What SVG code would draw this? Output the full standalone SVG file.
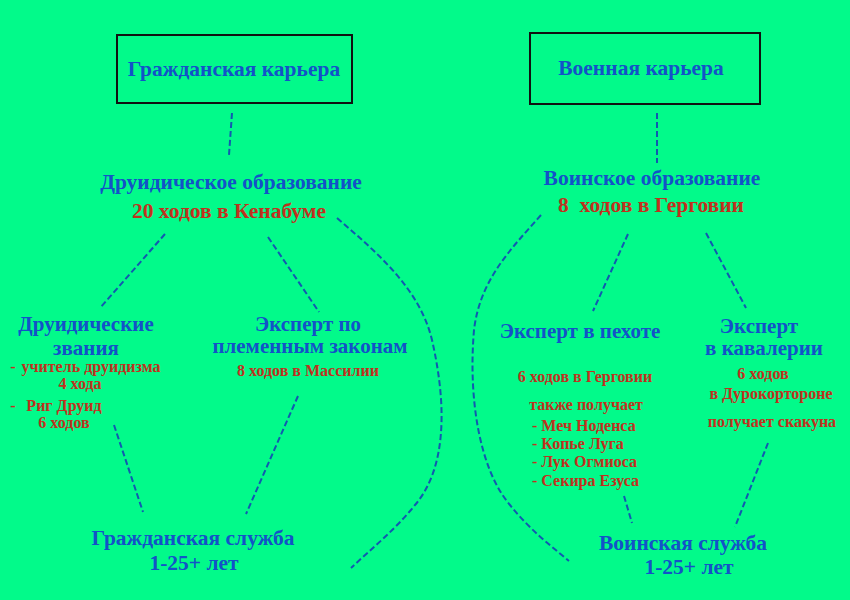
<svg xmlns="http://www.w3.org/2000/svg" width="850" height="600" viewBox="0 0 850 600">
<style>
.b{font-family:"Liberation Serif","Times New Roman",serif;font-weight:bold;fill:#1352c8;text-anchor:middle}
.r{font-family:"Liberation Serif","Times New Roman",serif;font-weight:bold;fill:#c0311e;text-anchor:middle}
.h{font-size:21px}
.m{font-size:21.5px}
.rm{font-size:21.5px}
.s{font-size:16px}
.st{text-anchor:start}
.box{fill:none;stroke:#111;stroke-width:2}
.c{fill:none;stroke:#1258b0;stroke-width:2;stroke-dasharray:6,3}
</style>
<rect width="850" height="600" fill="#02fa8a"/>
<g id="connectors">
<path class="c" d="M232,113 L229,155"/>
<path class="c" d="M657,113 L657,163"/>
<path class="c" d="M165,234 L100,308"/>
<path class="c" d="M268,237 L319,312"/>
<path class="c" d="M628,234 L593,311"/>
<path class="c" d="M706,233 L746,308"/>
<path class="c" d="M114,425 L143,512"/>
<path class="c" d="M298,396 L246,514"/>
<path class="c" d="M624,496 L632,523"/>
<path class="c" d="M768,443 L735,527"/>
<path class="c" d="M337,218 C380,255 420,290 432,340 C448,410 445,470 415,505 C395,530 370,550 351,568"/>
<path class="c" d="M541,215 C510,250 480,280 474,330 C468,400 480,470 510,505 C530,530 550,545 569,561"/>
</g>
<g id="civil-career">
<rect class="box" x="117" y="35" width="235" height="68"/>
<text class="b m" x="234" y="76">Гражданская карьера</text>
</g>
<g id="military-career">
<rect class="box" x="530" y="33" width="230" height="71"/>
<text class="b m" x="641" y="75">Военная карьера</text>
</g>
<g id="druid-education">
<text class="b m" x="231" y="189">Друидическое образование</text>
<text class="r rm" x="229" y="218">20 ходов в Кенабуме</text>
</g>
<g id="warrior-education">
<text class="b m" x="652" y="185">Воинское образование</text>
<text class="r rm" x="651" y="212" xml:space="preserve">8  ходов в Герговии</text>
</g>
<g id="druid-ranks">
<text class="b h" x="86" y="331">Друидические</text>
<text class="b h" x="86" y="355">звания</text>
<text class="r s" x="13" y="372">-</text>
<text class="r s" x="91" y="372">учитель друидизма</text>
<text class="r s" x="80" y="389">4 хода</text>
<text class="r s" x="13" y="411">-</text>
<text class="r s" x="64" y="411">Риг Друид</text>
<text class="r s" x="64" y="428">6 ходов</text>
</g>
<g id="tribal-law">
<text class="b h" x="308" y="331">Эксперт по</text>
<text class="b h" x="310" y="353">племенным законам</text>
<text class="r s" x="308" y="376">8 ходов в Массилии</text>
</g>
<g id="infantry">
<text class="b h" x="580" y="338">Эксперт в пехоте</text>
<text class="r s" x="585" y="382">6 ходов в Герговии</text>
<text class="r s" x="586" y="410">также получает</text>
<text class="r s st" x="532" y="431">- Меч Ноденса</text>
<text class="r s st" x="532" y="449">- Копье Луга</text>
<text class="r s st" x="532" y="467">- Лук Огмиоса</text>
<text class="r s st" x="532" y="486">- Секира Езуса</text>
</g>
<g id="cavalry">
<text class="b h" x="759" y="333">Эксперт</text>
<text class="b h" x="764" y="355">в кавалерии</text>
<text class="r s" x="763" y="379">6 ходов</text>
<text class="r s" x="771" y="399">в Дурокортороне</text>
<text class="r s" x="772" y="427">получает скакуна</text>
</g>
<g id="civil-service">
<text class="b m" x="193" y="545">Гражданская служба</text>
<text class="b m" x="194" y="570">1-25+ лет</text>
</g>
<g id="military-service">
<text class="b m" x="683" y="550">Воинская служба</text>
<text class="b m" x="689" y="574">1-25+ лет</text>
</g>
</svg>
